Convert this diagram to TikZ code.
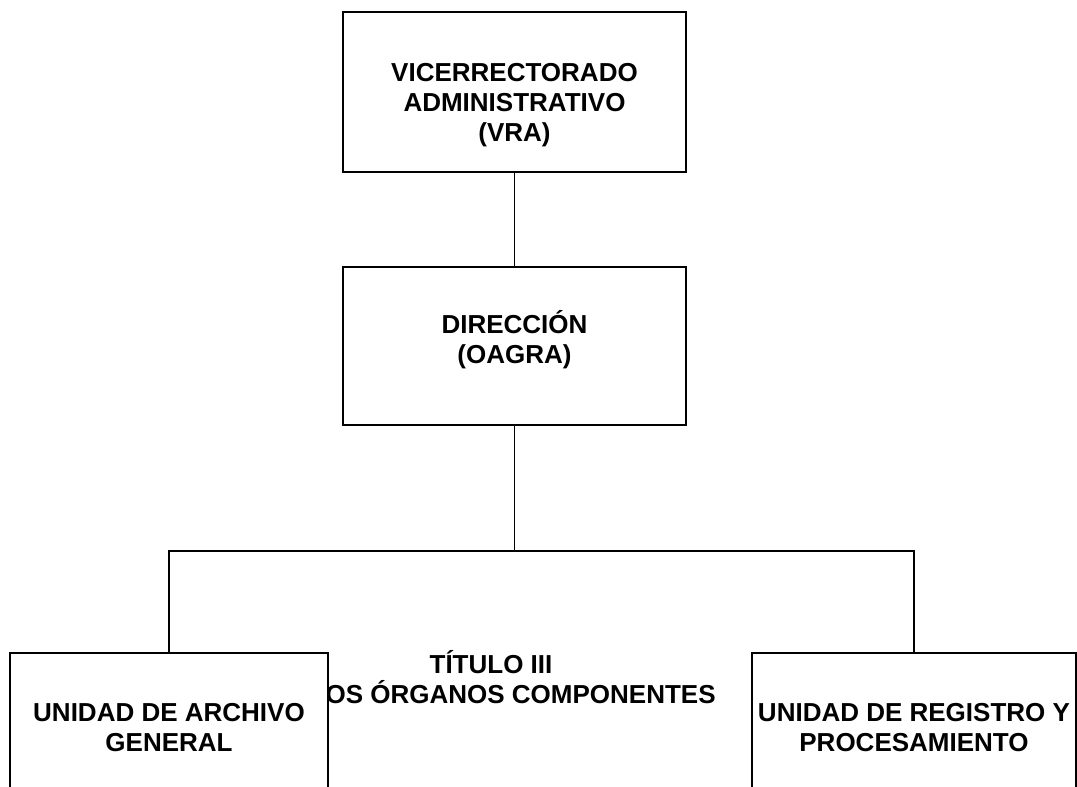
\documentclass[tikz,border=0pt]{standalone}
\usepackage{fontspec}
\setmainfont{Liberation Sans}
\usepackage{tikz}

\begin{document}
\begin{tikzpicture}[x=1pt,y=-1pt,line width=1.7pt]
\tikzstyle{every node} = [font=\fontsize{26}{30}\selectfont\bfseries, align=center, inner sep=2pt]
\tikzstyle{unitbox} = [draw, fill=white, shape=rectangle, minimum height=160pt]
\useasboundingbox (0,0) rectangle (1077,787);
\clip (0,0) rectangle (1077,787);

\node [draw=none] (tit) at (491, 677) {TÍTULO III\\DE LOS ÓRGANOS COMPONENTES};

\node [unitbox, minimum width=343pt] (vra) at (514.5, 92) {};
\node [unitbox, minimum width=343pt, minimum height=158pt] (dir) at (514.5, 346) {};
\node [unitbox, minimum width=318pt] (uag) at (169, 733) {};
\node [unitbox, minimum width=324pt] (urp) at (914, 733) {};

\node (vratext) at (514.5, 105) {VICERRECTORADO\\ADMINISTRATIVO\\(VRA)};
\node (dirtext) at (514.5, 339.5) {DIRECCIÓN\\(OAGRA)};
\node (uagtext) at (169, 727.5) {UNIDAD DE ARCHIVO\\GENERAL};
\node (urptext) at (914, 727.5) {UNIDAD DE REGISTRO Y\\PROCESAMIENTO};

\coordinate (bus) at (514.5, 551);

\draw [-] (vra) to (dir);
\draw [-] (dir) to (bus);
\draw [-] (uag.north) |- (bus) -| (urp.north);
\end{tikzpicture}
\end{document}
